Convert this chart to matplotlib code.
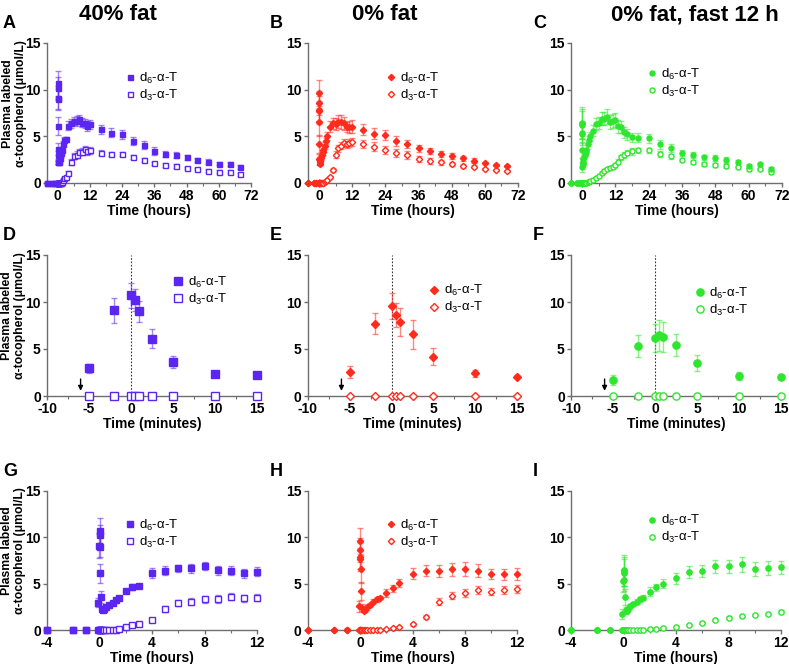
import matplotlib
matplotlib.use("Agg")
import matplotlib.pyplot as plt
from matplotlib.lines import Line2D
from matplotlib.ticker import MultipleLocator
import numpy as np

plt.rcParams['font.family'] = ['Liberation Sans', 'DejaVu Sans']
plt.rcParams['mathtext.default'] = 'regular'
plt.rcParams['axes.unicode_minus'] = False

# sample times: pre-dose (h), around the IV dose (min), after dose (h)
pre_h = [-4, -2, -1]
inj_min = [-5, -2, 0, 0.5, 1, 2.5, 5, 10, 15]
post_h = [0.33, 0.5, 0.75, 1, 1.25, 1.5, 2, 2.5, 3, 4, 5, 6, 7, 8, 9, 10, 11, 12,
          16, 20, 24, 28, 32, 36, 40, 44, 48, 52, 56, 60, 64, 68]
post_h_fast = [0.33, 0.5, 0.75, 1, 1.25, 1.5, 2, 2.5, 3, 4, 5, 6, 7, 8, 9, 10, 11, 12,
               13, 14, 15, 16, 18, 20, 24, 28, 32, 36, 40, 44, 48, 52, 56, 60, 64, 68]

# 40% fat
fat40_d6 = [0, 0, 0,
            2.95, 9.1, 10.7, 10.2, 9.0, 6.1, 3.6, 2.3, 2.2,
            2.3, 2.45, 2.7, 2.95, 3.2, 3.5, 4.2, 4.65, 4.75, 6.15, 6.4, 6.65, 6.65, 6.9, 6.45,
            6.4, 6.1, 6.3, 5.75, 5.4, 5.2, 4.5, 4.05, 3.45, 3.1, 3.0, 2.75, 2.45, 2.3, 2.05,
            2.05, 1.7]
fat40_d6_sd = [0, 0, 0,
               0.5, 1.3, 1.35, 1.15, 1.1, 1.0, 0.65, 0.25, 0.15,
               0.15, 0.15, 0.15, 0.15, 0.15, 0.15, 0.25, 0.3, 0.2, 0.5, 0.5, 0.4, 0.5, 0.4, 0.5,
               0.5, 0.5, 0.5, 0.5, 0.5, 0.45, 0.45, 0.4, 0.4, 0.35, 0.35, 0.3, 0.25, 0.25, 0.15,
               0.2, 0.2]
fat40_d3 = [0, 0, 0,
            0, 0, 0, 0, 0, 0, 0, 0, 0,
            0, 0, 0, 0.02, 0.05, 0.15, 0.36, 0.54, 0.65, 1.1, 2.25, 2.9, 3.05, 3.3, 3.35,
            3.6, 3.4, 3.5, 3.25, 3.1, 3.1, 2.8, 2.45, 2.1, 1.9, 1.8, 1.6, 1.5, 1.3, 1.2,
            1.2, 0.95]
fat40_d3_sd = [0, 0, 0,
               0, 0, 0, 0, 0, 0, 0, 0, 0,
               0, 0, 0, 0.02, 0.03, 0.05, 0.08, 0.1, 0.1, 0.15, 0.3, 0.35, 0.35, 0.35, 0.4,
               0.35, 0.35, 0.35, 0.3, 0.25, 0.25, 0.25, 0.2, 0.2, 0.2, 0.2, 0.15, 0.15, 0.15, 0.15,
               0.15, 0.15]

# 0% fat
fat0_d6 = [0, 0, 0.05,
           2.55, 7.7, 9.6, 8.6, 7.85, 6.55, 4.2, 2.4, 2.05,
           2.2, 2.45, 2.7, 3.05, 3.3, 3.5, 4.0, 4.5, 5.05, 6.05, 6.4, 6.35, 6.55, 6.55, 6.4,
           6.0, 6.0, 6.05, 5.7, 5.3, 5.15, 4.5, 4.2, 3.7, 3.45, 3.1, 2.9, 2.65, 2.4, 2.1,
           1.95, 1.85]
fat0_d6_sd = [0, 0.1, 0.15,
              0.6, 1.1, 1.4, 1.3, 1.5, 1.5, 0.95, 0.4, 0.15,
              0.25, 0.3, 0.25, 0.25, 0.25, 0.2, 0.4, 0.35, 0.45, 0.6, 0.6, 0.65, 0.7, 0.75, 0.7,
              0.55, 0.6, 0.65, 0.6, 0.55, 0.5, 0.55, 0.45, 0.35, 0.35, 0.3, 0.3, 0.25, 0.3, 0.1,
              0.1, 0.1]
fat0_d3 = [0, 0, 0,
           0, 0, 0, 0, 0, 0, 0, 0, 0,
           0, 0, 0, 0, 0.02, 0.05, 0.1, 0.25, 0.36, 0.6, 1.37, 3.05, 3.7, 4.0, 4.3,
           4.15, 4.3, 4.4, 4.15, 3.9, 3.55, 3.2, 3.0, 2.55, 2.35, 2.2, 2.0, 1.85, 1.75, 1.5,
           1.4, 1.3]
fat0_d3_sd = [0, 0, 0,
              0, 0, 0, 0, 0, 0, 0, 0, 0,
              0, 0, 0, 0, 0.02, 0.03, 0.05, 0.08, 0.1, 0.12, 0.2, 0.35, 0.4, 0.4, 0.4,
              0.4, 0.4, 0.45, 0.45, 0.45, 0.4, 0.4, 0.4, 0.3, 0.3, 0.25, 0.2, 0.2, 0.15, 0.1,
              0.1, 0.1]

# 0% fat, fast 12 h
fast_d6 = [0, 0, 0,
           1.7, 5.3, 6.2, 6.45, 6.3, 5.4, 3.55, 2.13, 2.02,
           2.3, 2.55, 2.8, 3.05, 3.3, 3.5, 4.15, 4.6, 5.0, 5.6, 6.3, 6.4, 6.9, 6.9, 7.1,
           6.55, 6.65, 6.75, 6.1, 6.0, 5.45, 5.2, 4.9, 4.85, 4.8, 4.15, 3.75, 3.2, 3.0, 2.75,
           2.65, 2.45, 2.25, 1.85, 2.0, 1.55]
fast_d6_sd = [0, 0, 0,
              0.55, 1.2, 1.5, 1.65, 1.6, 1.15, 0.85, 0.4, 0.1,
              0.3, 0.25, 0.25, 0.25, 0.25, 0.25, 0.5, 0.4, 0.5, 0.6, 0.65, 0.65, 0.7, 0.7, 0.8,
              0.75, 0.75, 0.75, 0.7, 0.65, 0.6, 0.55, 0.5, 0.5, 0.5, 0.5, 0.45, 0.35, 0.3, 0.3,
              0.3, 0.3, 0.25, 0.2, 0.15, 0.15]
fast_d3 = [0, 0, 0,
           0, 0, 0, 0, 0, 0, 0, 0, 0,
           0, 0, 0, 0, 0.02, 0.05, 0.1, 0.12, 0.25, 0.3, 0.55, 0.72, 1.05, 1.33, 1.5,
           1.62, 1.73, 1.98, 2.3, 2.75, 3.0, 3.25, 3.4, 3.5, 3.5, 3.1, 2.85, 2.45, 2.25, 2.0,
           1.95, 1.8, 1.7, 1.45, 1.5, 1.15]
fast_d3_sd = [0, 0, 0,
              0, 0, 0, 0, 0, 0, 0, 0, 0,
              0, 0, 0, 0, 0.02, 0.03, 0.05, 0.05, 0.05, 0.08, 0.1, 0.1, 0.12, 0.15, 0.15,
              0.15, 0.15, 0.2, 0.25, 0.3, 0.3, 0.3, 0.35, 0.3, 0.3, 0.3, 0.3, 0.25, 0.25, 0.2,
              0.2, 0.2, 0.15, 0.15, 0.15, 0.15]

t_std = np.array(pre_h + [m / 60 for m in inj_min] + post_h)
t_fast = np.array(pre_h + [m / 60 for m in inj_min] + post_h_fast)

titles = ['40% fat', '0% fat', '0% fat, fast 12 h']
colors = ['#5b26f2', '#ff2b1c', '#2ee62e']
markers = ['s', 'D', 'o']
groups = [
    (t_std, fat40_d6, fat40_d6_sd, fat40_d3, fat40_d3_sd),
    (t_std, fat0_d6, fat0_d6_sd, fat0_d3, fat0_d3_sd),
    (t_fast, fast_d6, fast_d6_sd, fast_d3, fast_d3_sd),
]
letters = [['A', 'B', 'C'], ['D', 'E', 'F'], ['G', 'H', 'I']]

W, H = 789, 664
fig = plt.figure(figsize=(W / 100, H / 100), dpi=100)

row_tb = [(43, 183), (255, 396), (491, 630)]
col_lr = [[(47, 251), (308, 518), (571, 782)],
          [(47, 257), (308, 517), (571, 781)],
          [(47, 257), (308, 517), (571, 781)]]
# legend anchor (axes fraction): left x, top y
leg_pos = [[(0.38, 0.80), (0.37, 0.80), (0.36, 0.83)],
           [(0.60, 0.86), (0.58, 0.80), (0.59, 0.78)],
           [(0.37, 0.81), (0.37, 0.81), (0.36, 0.84)]]
msize = [[3.6, 3.2, 3.6], [5.2, 4.2, 5.2], [3.8, 3.2, 3.8]]

spine_c = '#6e6e6e'

for r in range(3):
    top, bot = row_tb[r]
    for c in range(3):
        left, right = col_lr[r][c]
        ax = fig.add_axes([left / W, 1 - bot / H, (right - left) / W, (bot - top) / H])
        t, d6, d6sd, d3, d3sd = groups[c]
        d6, d6sd, d3, d3sd = map(np.array, (d6, d6sd, d3, d3sd))
        if r == 0:
            mask = np.ones(len(t), bool)
            x = t
        elif r == 1:
            mask = (t > -0.5) & (t <= 0.26)
            x = t * 60
        else:
            mask = t <= 12
            x = t
        col = colors[c]
        ms = msize[r][c]
        for y, e, filled in [(d3, d3sd, False), (d6, d6sd, True)]:
            ax.errorbar(x[mask], y[mask], yerr=e[mask], fmt='none', ecolor=col, alpha=0.55,
                        elinewidth=1, capsize=2.2, capthick=1, clip_on=False, zorder=2)
            ax.plot(x[mask], y[mask], ls='none', marker=markers[c], ms=ms, mec=col,
                    mfc=col if filled else 'white', mew=1, clip_on=False, zorder=3)

        ax.set_ylim(0, 15)
        ax.set_yticks([0, 5, 10, 15])
        if r == 0:
            ax.set_xlim(-4, 72)
            ax.set_xticks(range(0, 73, 12))
            ax.xaxis.set_minor_locator(MultipleLocator(6))
            xlab = 'Time (hours)'
        elif r == 1:
            ax.set_xlim(-10, 15)
            ax.set_xticks(range(-10, 16, 5))
            ax.xaxis.set_minor_locator(MultipleLocator(2.5))
            xlab = 'Time (minutes)'
            ax.axvline(0, color='#333333', ls=(0, (1.5, 1.5)), lw=0.8, zorder=1)
            ax.annotate('', xy=(-6, 0.25), xytext=(-6, 2.1),
                        arrowprops=dict(arrowstyle='-|>', color='black', lw=1, mutation_scale=7))
        else:
            ax.set_xlim(-4, 12)
            ax.set_xticks(range(-4, 13, 4))
            ax.xaxis.set_minor_locator(MultipleLocator(2))
            xlab = 'Time (hours)'
        ax.set_xlabel(xlab, fontsize=10, fontweight='bold', labelpad=0.5)

        for s in ['top', 'right']:
            ax.spines[s].set_visible(False)
        for s in ['left', 'bottom']:
            ax.spines[s].set_color(spine_c)
            ax.spines[s].set_linewidth(1)
        ax.tick_params(which='major', length=3, width=1, color=spine_c, pad=1.5)
        ax.tick_params(which='minor', length=2, width=0.8, color=spine_c)
        for lab in ax.get_xticklabels() + ax.get_yticklabels():
            lab.set_fontweight('bold')
            lab.set_fontsize(10)

        if c == 0:
            ax.set_ylabel('Plasma labeled\nα-tocopherol (μmol/L)', fontsize=8.8,
                          fontweight='bold', linespacing=1.1)
            ax.yaxis.set_label_coords(-0.1, 0.57)

        handles = [Line2D([], [], ls='none', marker=markers[c], ms=ms, mec=col, mfc=col, mew=1),
                   Line2D([], [], ls='none', marker=markers[c], ms=ms, mec=col, mfc='white', mew=1)]
        lx, ly = leg_pos[r][c]
        ax.legend(handles, ['d$_6$-α-T', 'd$_3$-α-T'], loc='upper left', bbox_to_anchor=(lx, ly),
                  frameon=False, fontsize=9.5, handlelength=0.8, handletextpad=0.3,
                  labelspacing=0.15, borderpad=0, borderaxespad=0)

        fig.text((left - 44) / W if c == 0 else (left - 38) / W, 1 - (top - 20) / H,
                 letters[r][c], fontsize=13, fontweight='bold', va='center', ha='left')

for xc, title in zip([118, 385, 695], titles):
    fig.text(xc / W, 1 - 15 / H, title, fontsize=16, fontweight='bold', ha='center', va='center')

plt.savefig('out.png', dpi=100)
